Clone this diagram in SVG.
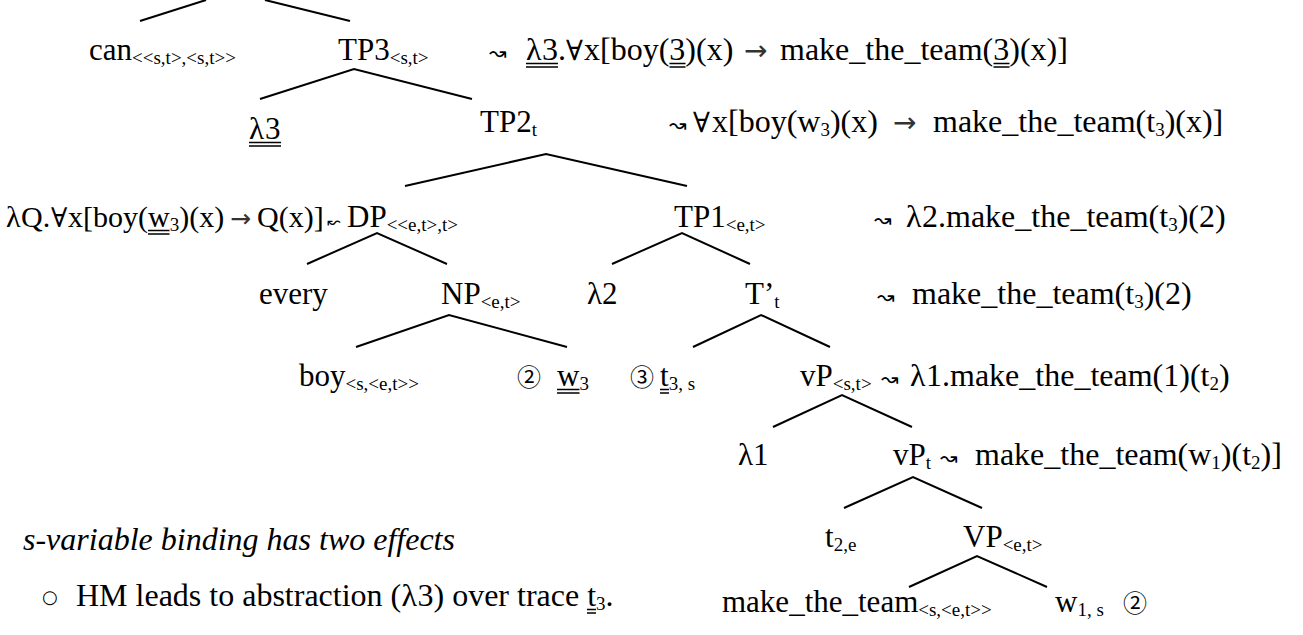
<svg xmlns="http://www.w3.org/2000/svg" width="1303" height="635" viewBox="0 0 1303 635">
  <style>
    .t { font-family: "Liberation Serif", "DejaVu Serif", serif; font-size: 31px; fill: #000; }
    .a { font-family: "Liberation Serif", "DejaVu Serif", serif; font-size: 32px; fill: #000; }
    .q { font-family: "Liberation Serif", "DejaVu Serif", serif; font-size: 30px; fill: #000; }
    .s { font-size: 19px; }
    .it { font-style: italic; }
    .fa { font-family: "DejaVu Serif", serif; font-size: 28px; }
    .fq { font-family: "DejaVu Serif", serif; font-size: 27px; }
    .wa { font-family: "DejaVu Sans", sans-serif; font-size: 21px; }
    .wl { font-family: "DejaVu Sans", sans-serif; font-size: 16px; }
    .ar { font-family: "DejaVu Sans", sans-serif; font-size: 28px; fill: #333; }
    .aq { font-family: "DejaVu Sans", sans-serif; font-size: 25px; fill: #333; }
    .c { font-family: "Noto Sans CJK JP", "DejaVu Sans", sans-serif; font-size: 24px; }
    .bl { font-family: "DejaVu Sans", sans-serif; font-size: 18px; }
    .edge { stroke: #000; stroke-width: 2; fill: none; }
    .dul { stroke: #000; stroke-width: 1.3; }
  </style>

  <!-- tree branches -->
  <g id="connectors">
    <line class="edge" x1="140" y1="21" x2="206" y2="0"/>
    <line class="edge" x1="265" y1="0" x2="350" y2="21"/>
    <polyline class="edge" points="260,99 354,69 472,99"/>
    <polyline class="edge" points="405,186 546,154 687,186"/>
    <polyline class="edge" points="307,264 377,233 447,264"/>
    <polyline class="edge" points="612,264 682,233 750,264"/>
    <polyline class="edge" points="356,347 449,315 567,347"/>
    <polyline class="edge" points="693,347 761,315 830,347"/>
    <polyline class="edge" points="773,427 842,395 912,427"/>
    <polyline class="edge" points="844,508 913,477 982,508"/>
    <polyline class="edge" points="909,587 977,556 1047,587"/>
  </g>

  <!-- nodes -->
  <g id="can"><text class="t" x="89" y="60">can<tspan class="s" dy="4">&lt;&lt;s,t&gt;,&lt;s,t&gt;&gt;</tspan></text></g>

  <g id="tp3">
    <text class="t" x="338" y="60">TP3<tspan class="s" dy="4">&lt;s,t&gt;</tspan></text>
    <text class="a" y="60"><tspan class="wa" x="489">↝</tspan><tspan x="526">λ</tspan><tspan x="542">3.</tspan><tspan class="fa" x="566">∀</tspan><tspan x="584">x[boy(3)(x)</tspan><tspan class="ar" x="744">→</tspan><tspan x="780">make_the_team(3)(x)]</tspan></text>
    <path class="dul" d="M526,63.5H558M526,67H558M669.5,63.5H685.5M669.5,67H685.5M993.5,63.5H1009.5M993.5,67H1009.5"/>
  </g>

  <g id="lambda3">
    <text class="t" y="139"><tspan x="249">λ</tspan><tspan x="265">3</tspan></text>
    <path class="dul" d="M249,142.5H281M249,146H281"/>
  </g>

  <g id="tp2">
    <text class="t" x="480" y="132">TP2<tspan class="s" dy="4">t</tspan></text>
    <text class="a" y="132"><tspan class="wa" x="669">↝</tspan><tspan class="fa" x="693">∀</tspan><tspan x="712">x[boy(w</tspan><tspan class="s" dy="4">3</tspan><tspan dy="-4">)(x)</tspan><tspan class="ar" x="893">→</tspan><tspan x="933">make_the_team(t</tspan><tspan class="s" dy="4">3</tspan><tspan dy="-4">)(x)]</tspan></text>
  </g>

  <g id="dp">
    <text class="q" y="227"><tspan x="6">λ</tspan><tspan x="21">Q.</tspan><tspan class="fq" x="51">∀</tspan><tspan x="68">x[boy(w</tspan><tspan class="s" dy="4">3</tspan><tspan dy="-4">)(x)</tspan><tspan class="aq" x="230">→</tspan><tspan x="257">Q(x)]</tspan><tspan class="wl" x="327">↜</tspan></text>
    <path class="dul" d="M148,230.5H169.5M148,234H169.5"/>
    <text class="t" x="347" y="227">DP<tspan class="s" dy="4">&lt;&lt;e,t&gt;,t&gt;</tspan></text>
  </g>

  <g id="tp1">
    <text class="t" x="674" y="227">TP1<tspan class="s" dy="4">&lt;e,t&gt;</tspan></text>
    <text class="a" y="227"><tspan class="wa" x="874">↝</tspan><tspan x="906">λ</tspan><tspan x="922">2.make_the_team(t</tspan><tspan class="s" dy="4">3</tspan><tspan dy="-4">)(2)</tspan></text>
  </g>

  <g id="every"><text class="t" x="259" y="304">every</text></g>
  <g id="np"><text class="t" x="441" y="304">NP<tspan class="s" dy="4">&lt;e,t&gt;</tspan></text></g>
  <g id="lambda2"><text class="t" x="587" y="304">λ2</text></g>

  <g id="tbar">
    <text class="t" x="745" y="304">T’<tspan class="s" dy="4">t</tspan></text>
    <text class="a" y="304"><tspan class="wa" x="877">↝</tspan><tspan x="912">make_the_team(t</tspan><tspan class="s" dy="4">3</tspan><tspan dy="-4">)(2)</tspan></text>
  </g>

  <g id="boy"><text class="t" x="299" y="386">boy<tspan class="s" dy="4">&lt;s,&lt;e,t&gt;&gt;</tspan></text></g>

  <g id="w3">
    <text class="c" x="517" y="386">②</text>
    <text class="t" x="557" y="386">w<tspan class="s" dy="4">3</tspan></text>
    <path class="dul" d="M557,389.5H579.5M557,393H579.5"/>
  </g>

  <g id="t3">
    <text class="c" x="630" y="386">③</text>
    <text class="t" x="660" y="386">t<tspan class="s" dy="4">3, s</tspan></text>
    <path class="dul" d="M660,389.5H669M660,393H669"/>
  </g>

  <g id="vp-st">
    <text class="t" x="800" y="386">vP<tspan class="s" dy="4">&lt;s,t&gt;</tspan></text>
    <text class="a" y="386"><tspan class="wa" x="881">↝</tspan><tspan x="910">λ</tspan><tspan x="926">1.make_the_team(1)(t</tspan><tspan class="s" dy="4">2</tspan><tspan dy="-4">)</tspan></text>
  </g>

  <g id="lambda1"><text class="t" x="738" y="465">λ1</text></g>

  <g id="vp-t">
    <text class="t" x="893" y="465">vP<tspan class="s" dy="4">t</tspan></text>
    <text class="a" y="465"><tspan class="wa" x="940">↝</tspan><tspan x="975">make_the_team(w</tspan><tspan class="s" dy="4">1</tspan><tspan dy="-4">)(t</tspan><tspan class="s" dy="4">2</tspan><tspan dy="-4">)]</tspan></text>
  </g>

  <g id="t2e"><text class="t" x="825" y="547">t<tspan class="s" dy="4">2,e</tspan></text></g>
  <g id="vp"><text class="t" x="963" y="547">VP<tspan class="s" dy="4">&lt;e,t&gt;</tspan></text></g>

  <g id="verb"><text class="t" x="722" y="612">make_the_team<tspan class="s" dy="4">&lt;s,&lt;e,t&gt;&gt;</tspan></text></g>

  <g id="w1">
    <text class="t" x="1055" y="612">w<tspan class="s" dy="4">1, s</tspan></text>
    <text class="c" x="1123" y="612">②</text>
  </g>

  <!-- notes below the tree -->
  <g id="notes">
    <text class="a it" x="23" y="550">s-variable binding has two effects</text>
    <text class="bl" x="42" y="603">○</text>
    <text class="a" y="606"><tspan x="76">HM leads to abstraction (</tspan><tspan x="401.5">λ</tspan><tspan x="417.5">3) over trace t</tspan><tspan class="s" dy="4">3</tspan><tspan dy="-4">.</tspan></text>
    <path class="dul" d="M587,609.5H596M587,613H596"/>
  </g>
</svg>
